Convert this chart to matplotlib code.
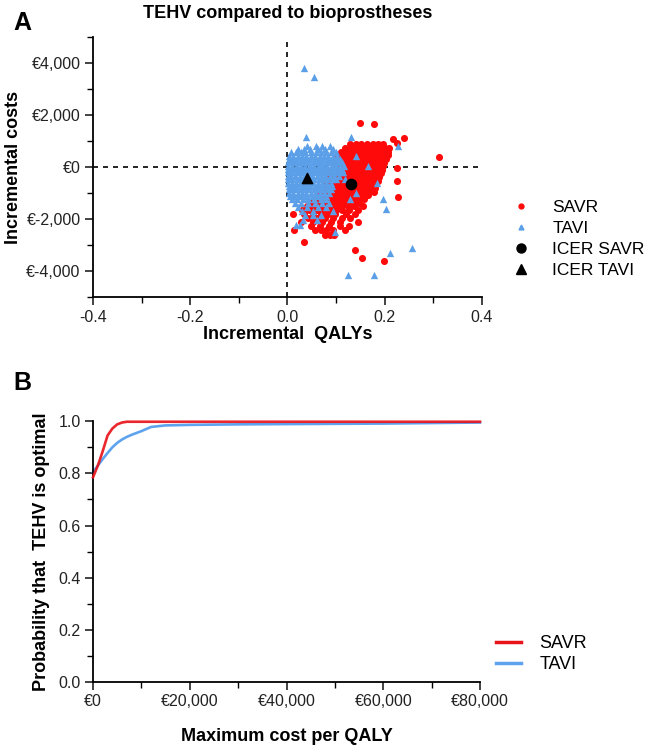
import numpy as np
import matplotlib
matplotlib.use("Agg")
import matplotlib.pyplot as plt
from matplotlib.lines import Line2D
from matplotlib.ticker import MultipleLocator, FuncFormatter

plt.rcParams['font.family'] = ['Liberation Sans', 'DejaVu Sans']

# ---- panel A: cost-effectiveness plane (QALY diff per cost row) ----
savr_rows = {
    1695: [0.149], 1657: [0.177], 1114: [0.239], 1075: [0.218], 943: [0.225],
    880: [0.128, 0.140, 0.152, 0.163, 0.175, 0.186, 0.196],
    815: [0.132],
    740: [0.118, 0.128, 0.137, 0.146, 0.155, 0.164, 0.173, 0.182, 0.191, 0.201, 0.208],
    600: [0.110, 0.119, 0.127, 0.136, 0.145, 0.154, 0.162, 0.171, 0.180, 0.189, 0.198, 0.206],
    460: [0.104, 0.112, 0.121, 0.130, 0.138, 0.147, 0.156, 0.165, 0.173, 0.182, 0.190, 0.199, 0.207],
    400: [0.311],
    320: [0.099, 0.107, 0.116, 0.124, 0.133, 0.142, 0.150, 0.159, 0.168, 0.176, 0.185, 0.193, 0.202],
    180: [0.097, 0.105, 0.113, 0.122, 0.130, 0.139, 0.147, 0.156, 0.165, 0.173, 0.182, 0.190, 0.199],
    40: [0.095, 0.103, 0.111, 0.120, 0.128, 0.137, 0.146, 0.154, 0.163, 0.171, 0.180, 0.188, 0.197],
    -27: [0.225],
    -100: [0.090, 0.099, 0.108, 0.116, 0.125, 0.134, 0.142, 0.151, 0.160, 0.168, 0.177, 0.186, 0.195],
    -240: [0.086, 0.095, 0.104, 0.113, 0.121, 0.130, 0.139, 0.147, 0.156, 0.165, 0.173, 0.182, 0.192],
    -380: [0.083, 0.092, 0.100, 0.109, 0.118, 0.127, 0.135, 0.144, 0.153, 0.161, 0.170, 0.179, 0.188],
    -520: [0.079, 0.088, 0.097, 0.106, 0.114, 0.123, 0.132, 0.140, 0.149, 0.158, 0.167, 0.176, 0.186],
    -543: [0.225],
    -660: [0.076, 0.085, 0.093, 0.102, 0.111, 0.120, 0.128, 0.137, 0.146, 0.155, 0.164, 0.173, 0.183],
    -800: [0.072, 0.081, 0.090, 0.098, 0.107, 0.116, 0.125, 0.134, 0.143, 0.152, 0.161, 0.170, 0.180],
    -940: [0.068, 0.077, 0.086, 0.095, 0.104, 0.113, 0.122, 0.131, 0.140, 0.149, 0.158, 0.168, 0.178],
    -1080: [0.062, 0.072, 0.082, 0.091, 0.100, 0.110, 0.119, 0.128, 0.137, 0.147, 0.156, 0.166],
    -1125: [0.228],
    -1220: [0.055, 0.066, 0.077, 0.087, 0.097, 0.107, 0.117, 0.126, 0.136, 0.146, 0.157],
    -1360: [0.048, 0.060, 0.072, 0.083, 0.094, 0.104, 0.115, 0.125, 0.136, 0.148],
    -1500: [0.040, 0.053, 0.066, 0.078, 0.090, 0.101, 0.113, 0.124, 0.137, 0.155],
    -1650: [0.030, 0.045, 0.060, 0.074, 0.087, 0.099, 0.112, 0.126, 0.145],
    -1800: [0.011, 0.035, 0.052, 0.068, 0.083, 0.097, 0.120, 0.139],
    -1950: [0.042, 0.060, 0.078, 0.094, 0.112, 0.128],
    -2100: [0.028, 0.052, 0.072, 0.090, 0.108, 0.146],
    -2250: [0.048, 0.066, 0.085, 0.108, 0.126],
    -2400: [0.014, 0.056, 0.070, 0.080, 0.094, 0.118],
    -2600: [0.077, 0.087, 0.095],
    -2870: [0.035],
    -3195: [0.139],
    -3480: [0.154],
    -3610: [0.199],
}

tavi_rows = {
    3800: [0.035],
    3465: [0.054],
    1150: [0.039, 0.130],
    820: [0.040, 0.058, 0.072, 0.088, 0.228],
    700: [0.022, 0.034, 0.047, 0.063, 0.078, 0.094],
    580: [0.008, 0.017, 0.027, 0.037, 0.048, 0.058, 0.068, 0.079, 0.089, 0.099],
    450: [0.004, 0.012, 0.021, 0.030, 0.039, 0.048, 0.057, 0.066, 0.075, 0.084, 0.093, 0.102, 0.142],
    320: [0.003, 0.011, 0.020, 0.029, 0.038, 0.047, 0.056, 0.065, 0.074, 0.083, 0.092, 0.101, 0.108],
    190: [0.002, 0.009, 0.017, 0.025, 0.034, 0.043, 0.052, 0.061, 0.070, 0.079, 0.088, 0.097, 0.106, 0.113],
    60: [0.002, 0.010, 0.019, 0.028, 0.037, 0.046, 0.055, 0.064, 0.073, 0.082, 0.091, 0.100, 0.109, 0.116, 0.165],
    -70: [0.001, 0.008, 0.016, 0.025, 0.033, 0.042, 0.051, 0.060, 0.069, 0.078, 0.087, 0.096, 0.105, 0.113],
    -200: [0.002, 0.010, 0.019, 0.028, 0.037, 0.046, 0.055, 0.064, 0.073, 0.082, 0.091, 0.100, 0.110, 0.115],
    -330: [0.001, 0.008, 0.016, 0.025, 0.033, 0.042, 0.051, 0.060, 0.069, 0.078, 0.087, 0.096, 0.105],
    -460: [0.002, 0.010, 0.019, 0.028, 0.037, 0.046, 0.055, 0.064, 0.073, 0.082, 0.091, 0.100, 0.118],
    -590: [0.002, 0.009, 0.017, 0.026, 0.035, 0.044, 0.053, 0.062, 0.071, 0.080, 0.089, 0.184],
    -720: [0.003, 0.011, 0.020, 0.029, 0.038, 0.047, 0.056, 0.065, 0.074, 0.083, 0.092],
    -850: [0.003, 0.010, 0.018, 0.027, 0.036, 0.045, 0.054, 0.063, 0.072, 0.081, 0.090],
    -980: [0.004, 0.012, 0.021, 0.030, 0.039, 0.048, 0.057, 0.066, 0.075, 0.085, 0.140],
    -1110: [0.006, 0.014, 0.023, 0.032, 0.041, 0.050, 0.060, 0.070, 0.080],
    -1240: [0.010, 0.020, 0.031, 0.043, 0.055, 0.068, 0.080, 0.128, 0.197],
    -1380: [0.016, 0.028, 0.042, 0.057, 0.072, 0.086],
    -1520: [0.021, 0.040, 0.063, 0.080],
    -1600: [0.203],
    -1700: [0.030, 0.052, 0.094],
    -1850: [0.036, 0.052, 0.070],
    -2030: [0.032, 0.060],
    -2220: [0.018, 0.025],
    -2480: [0.097],
    -3100: [0.256],
    -3300: [0.211],
    -4125: [0.124],
    -4150: [0.177],
}

icer_savr = (0.130, -648)
icer_tavi = (0.041, -415)

# ---- panel B: acceptability curves ----
wtp = [0, 1000, 2000, 3000, 4000, 5000, 6000, 7000, 8000, 10000, 12000, 15000,
       20000, 30000, 40000, 50000, 60000, 70000, 80000]
savr_prob = [0.785, 0.830, 0.885, 0.945, 0.972, 0.988, 0.995, 0.998, 0.998, 0.998, 0.998, 0.998,
             0.998, 0.998, 0.998, 0.998, 0.998, 0.998, 0.998]
tavi_prob = [0.805, 0.830, 0.855, 0.878, 0.900, 0.917, 0.930, 0.940, 0.948, 0.962, 0.978, 0.984,
             0.986, 0.988, 0.989, 0.990, 0.991, 0.993, 0.995]

RED = '#ff0a0a'
BLUE = '#5b9fe8'
LINE_RED = '#e8141b'
LINE_BLUE = '#5ea3ee'
TICK_FS = 11.5
LABEL_FS = 13


def flatten(rows):
    xs, ys = [], []
    for cost, qalys in rows.items():
        for q in qalys:
            xs.append(q)
            ys.append(cost)
    return np.array(xs), np.array(ys)


def style_axes(ax):
    for side in ('top', 'right'):
        ax.spines[side].set_visible(False)
    for side in ('left', 'bottom'):
        ax.spines[side].set_linewidth(1.3)
    ax.tick_params(which='major', direction='out', length=6, width=1.2, labelsize=TICK_FS,
                   colors='#222222', pad=3)
    ax.tick_params(which='minor', direction='out', length=4, width=1.0)


euro = FuncFormatter(lambda v, p: "€{:,.0f}".format(v))

fig = plt.figure(figsize=(6.46, 7.45), dpi=100)

# panel A
axA = fig.add_axes([0.144, 0.601, 0.602, 0.349])
sx, sy = flatten(savr_rows)
tx, ty = flatten(tavi_rows)
axA.axvline(0, color='black', ls=(0, (3, 3)), lw=1.2, zorder=1)
axA.axhline(0, color='black', ls=(0, (3, 3)), lw=1.2, zorder=1)
axA.scatter(sx, sy, s=26, color=RED, marker='o', linewidths=0, zorder=2)
axA.scatter(tx, ty, s=28, color=BLUE, marker='^', linewidths=0, zorder=3)
axA.scatter([icer_savr[0]], [icer_savr[1]], s=55, color='black', marker='o', zorder=4)
axA.scatter([icer_tavi[0]], [icer_tavi[1]], s=55, color='black', marker='^', zorder=4)
axA.set_xlim(-0.4, 0.4)
axA.set_ylim(-5000, 5000)
axA.xaxis.set_major_locator(MultipleLocator(0.2))
axA.xaxis.set_minor_locator(MultipleLocator(0.1))
axA.yaxis.set_minor_locator(MultipleLocator(1000))
axA.set_yticks([-4000, -2000, 0, 2000, 4000])
axA.yaxis.set_major_formatter(euro)
axA.xaxis.set_major_formatter(FuncFormatter(lambda v, p: "{:.1f}".format(v)))
style_axes(axA)
axA.set_xlabel("Incremental  QALYs", fontsize=LABEL_FS, fontweight='bold', labelpad=1)
axA.set_ylabel("Incremental costs", fontsize=LABEL_FS, fontweight='bold', labelpad=3)
axA.set_title("TEHV compared to bioprostheses", fontsize=LABEL_FS, fontweight='bold', pad=14)

handlesA = [
    Line2D([], [], ls='', marker='o', color=RED, markersize=3.5),
    Line2D([], [], ls='', marker='^', color=BLUE, markersize=3.5),
    Line2D([], [], ls='', marker='o', color='black', markersize=6.5),
    Line2D([], [], ls='', marker='^', color='black', markersize=6.5),
]
fig.legend(handlesA, ["SAVR", "TAVI", "ICER SAVR", "ICER TAVI"], loc='center left',
           bbox_to_anchor=(0.785, 0.679), frameon=False, fontsize=12.5, handlelength=1.2,
           handletextpad=1.2, labelspacing=0.33, borderaxespad=0, borderpad=0.2)

# panel B
axB = fig.add_axes([0.144, 0.0846, 0.599, 0.350])
axB.plot(wtp, tavi_prob, color=LINE_BLUE, lw=1.9, zorder=2, clip_on=False)
axB.plot(wtp, savr_prob, color=LINE_RED, lw=1.9, zorder=3, alpha=0.92, clip_on=False)
axB.set_xlim(0, 80000)
axB.set_ylim(0, 1.0)
axB.xaxis.set_major_locator(MultipleLocator(20000))
axB.xaxis.set_minor_locator(MultipleLocator(10000))
axB.yaxis.set_major_locator(MultipleLocator(0.2))
axB.yaxis.set_minor_locator(MultipleLocator(0.1))
axB.xaxis.set_major_formatter(euro)
axB.yaxis.set_major_formatter(FuncFormatter(lambda v, p: "{:.1f}".format(v)))
style_axes(axB)
axB.set_xlabel("Maximum cost per QALY", fontsize=LABEL_FS, fontweight='bold', labelpad=13)
axB.set_ylabel("Probability that  TEHV is optimal", fontsize=LABEL_FS, fontweight='bold', labelpad=6)

handlesB = [Line2D([], [], color=LINE_RED, lw=2.5), Line2D([], [], color=LINE_BLUE, lw=2.5)]
fig.legend(handlesB, ["SAVR", "TAVI"], loc='center left', bbox_to_anchor=(0.762, 0.122),
           frameon=False, fontsize=LABEL_FS, handlelength=1.4, handletextpad=1.0, labelspacing=0.22,
           borderaxespad=0, borderpad=0.2)

fig.text(0.02, 0.96, "A", fontsize=18, fontweight='bold', va='baseline')
fig.text(0.02, 0.477, "B", fontsize=18, fontweight='bold', va='baseline')

fig.savefig("out.png", dpi=100, facecolor='white')
